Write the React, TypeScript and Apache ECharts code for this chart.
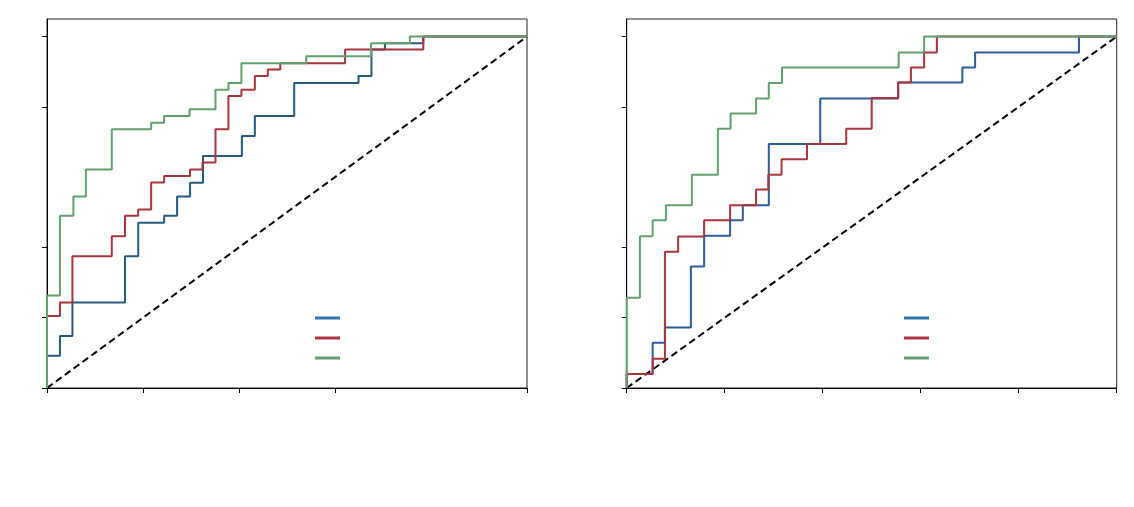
import React, { useEffect, useRef } from "react";
import * as echarts from "echarts";

// ROC corner points (FPR, TPR) — top of each vertical rise; step "end"
const leftBlue: [number, number][] = [
  [0, 0], [0, 0.092], [0.027, 0.148], [0.053, 0.243], [0.1625, 0.375], [0.19, 0.47],
  [0.244, 0.49], [0.271, 0.545], [0.298, 0.584], [0.325, 0.66], [0.406, 0.717],
  [0.433, 0.774], [0.515, 0.868], [0.649, 0.888], [0.676, 0.963], [0.704, 0.981],
  [0.784, 1.0], [1, 1],
];
const leftRed: [number, number][] = [
  [0, 0], [0, 0.205], [0.027, 0.243], [0.053, 0.375], [0.135, 0.432], [0.1625, 0.49],
  [0.19, 0.508], [0.217, 0.585], [0.244, 0.603], [0.298, 0.622], [0.324, 0.642],
  [0.351, 0.736], [0.378, 0.831], [0.405, 0.849], [0.433, 0.888], [0.46, 0.906],
  [0.486, 0.924], [0.621, 0.963], [0.784, 1.0], [1, 1],
];
const leftGreen: [number, number][] = [
  [0, 0], [0, 0.263], [0.027, 0.49], [0.055, 0.545], [0.081, 0.622], [0.135, 0.736],
  [0.217, 0.755], [0.244, 0.774], [0.297, 0.793], [0.351, 0.849], [0.378, 0.868],
  [0.405, 0.924], [0.54, 0.944], [0.675, 0.981], [0.756, 1.0], [1, 1],
];
const rightBlue: [number, number][] = [
  [0, 0], [0, 0.04], [0.053, 0.129], [0.078, 0.172], [0.131, 0.346], [0.158, 0.433],
  [0.211, 0.477], [0.237, 0.52], [0.29, 0.694], [0.395, 0.824], [0.554, 0.869],
  [0.685, 0.912], [0.711, 0.955], [0.923, 1.0], [1, 1],
];
const rightRed: [number, number][] = [
  [0, 0], [0, 0.04], [0.053, 0.083], [0.078, 0.388], [0.105, 0.431], [0.158, 0.477],
  [0.211, 0.52], [0.264, 0.565], [0.289, 0.607], [0.316, 0.651], [0.368, 0.694],
  [0.448, 0.738], [0.5, 0.825], [0.554, 0.869], [0.58, 0.912], [0.607, 0.955],
  [0.633, 1.0], [1, 1],
];
const rightGreen: [number, number][] = [
  [0, 0], [0, 0.257], [0.027, 0.432], [0.053, 0.477], [0.08, 0.52], [0.133, 0.607],
  [0.186, 0.738], [0.212, 0.781], [0.264, 0.824], [0.29, 0.868], [0.317, 0.912],
  [0.555, 0.955], [0.607, 1.0], [1, 1],
];
const diagonal: [number, number][] = [[0, 0], [1, 1]];

const yTicks = [0, 0.2, 0.4, 0.8, 1.0];
const leftXTicks = [0, 0.2, 0.4, 0.6, 1.0];
const rightXTicks = [0, 0.2, 0.4, 0.6, 0.8, 1.0];

const BLUE_L = "#285a7c";
const BLUE_R = "#2c5c9e";
const RED = "#a8343e";
const GREEN = "#62a06e";
const LEG_BLUE = "#2e75b6";

export default function App() {
  const ref = useRef<HTMLDivElement>(null);
  useEffect(() => {
    if (!ref.current) return;
    const chart = echarts.init(ref.current, null, { renderer: "svg" });
    const mkX = (idx: number, ticks: number[]) => ({
      type: "value",
      gridIndex: idx,
      min: 0,
      max: 1,
      interval: 0.2,
      axisLine: { show: true, lineStyle: { color: "#000", width: 1 } },
      axisTick: { show: true, length: 5, customValues: ticks, lineStyle: { color: "#000" } },
      axisLabel: { show: false },
      splitLine: { show: false },
    });
    const mkY = (idx: number) => ({
      type: "value",
      gridIndex: idx,
      min: 0,
      max: 1.05,
      interval: 0.2,
      axisLine: { show: true, lineStyle: { color: "#000", width: 1 } },
      axisTick: { show: true, length: 5, customValues: yTicks, lineStyle: { color: "#000" } },
      axisLabel: { show: false },
      splitLine: { show: false },
    });
    const mkLine = (idx: number, data: [number, number][], color: string, z: number) => ({
      type: "line",
      xAxisIndex: idx,
      yAxisIndex: idx,
      data,
      step: "end",
      showSymbol: false,
      symbol: "none",
      z,
      lineStyle: { color, width: 2 },
    });
    const mkDiag = (idx: number) => ({
      type: "line",
      xAxisIndex: idx,
      yAxisIndex: idx,
      data: diagonal,
      showSymbol: false,
      symbol: "none",
      z: 1,
      lineStyle: { color: "#000", width: 2, type: [7, 4] },
    });
    const legendLines = (x: number) =>
      [
        { y: 318, c: LEG_BLUE },
        { y: 338, c: RED },
        { y: 358, c: GREEN },
      ].map((it) => ({
        type: "line",
        shape: { x1: x, y1: it.y, x2: x + 25, y2: it.y },
        style: { stroke: it.c, lineWidth: 3 },
      }));
    chart.setOption({
      animation: false,
      backgroundColor: "#fff",
      grid: [
        { left: 47, top: 19, width: 480, height: 369, show: true, borderColor: "#222", borderWidth: 1 },
        { left: 626.7, top: 19, width: 490, height: 369, show: true, borderColor: "#222", borderWidth: 1 },
      ],
      xAxis: [mkX(0, leftXTicks), mkX(1, rightXTicks)],
      yAxis: [mkY(0), mkY(1)],
      series: [
        mkDiag(0),
        mkLine(0, leftBlue, BLUE_L, 2),
        mkLine(0, leftRed, RED, 3),
        mkLine(0, leftGreen, GREEN, 4),
        mkDiag(1),
        mkLine(1, rightBlue, BLUE_R, 2),
        mkLine(1, rightRed, RED, 3),
        mkLine(1, rightGreen, GREEN, 4),
      ],
      graphic: [...legendLines(315), ...legendLines(904)],
    });
    return () => chart.dispose();
  }, []);
  return (
    <div
      ref={ref}
      style={{ position: "fixed", left: 0, top: 0, width: 1134, height: 507 }}
    />
  );
}
